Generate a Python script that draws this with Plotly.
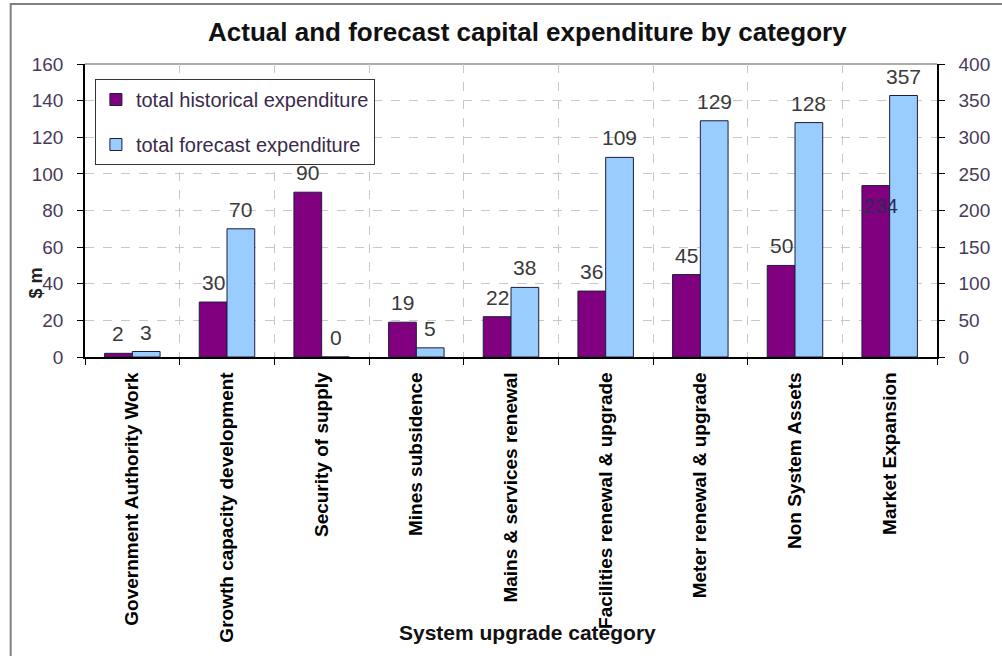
import plotly.graph_objects as go

categories = [
    "Government Authority Work",
    "Growth capacity development",
    "Security of supply",
    "Mines subsidence",
    "Mains & services renewal",
    "Facilities renewal & upgrade",
    "Meter renewal & upgrade",
    "Non System Assets",
    "Market Expansion",
]
historical = [2, 30, 90, 19, 22, 36, 45, 50, 234]
forecast = [3, 70, 0, 5, 38, 109, 129, 128, 357]
secondary_axis_categories = ["Market Expansion"]

hist_color = "#800080"
fore_color = "#99CCFF"
edge = dict(color="#1c1c3c", width=1)
FONT = "Liberation Sans, Arial"
label_font = dict(family=FONT, size=21, color="#3a3a3a")
bw = 0.293

L, R, T, B = 85, 57, 64, 299
W, H = 1002, 656
pw, ph = W - L - R, H - T - B
cat_px = pw / len(categories)
half_bar_px = bw * cat_px / 2


def px(x):
    return (x - L) / pw


def py(y):
    return (H - B - y) / ph


prim = [i for i, c in enumerate(categories) if c not in secondary_axis_categories]
sec = [i for i, c in enumerate(categories) if c in secondary_axis_categories]

fig = go.Figure()
fig.add_trace(go.Bar(
    x=[categories[i] for i in prim], y=[historical[i] for i in prim],
    name="total historical expenditure", marker=dict(color=hist_color, line=edge),
    width=bw, offset=-bw, legendgroup="h", yaxis="y"))
fig.add_trace(go.Bar(
    x=[categories[i] for i in prim], y=[forecast[i] for i in prim],
    name="total forecast expenditure", marker=dict(color=fore_color, line=edge),
    width=bw, offset=0, legendgroup="f", yaxis="y"))
fig.add_trace(go.Bar(
    x=[categories[i] for i in sec], y=[historical[i] for i in sec],
    name="total historical expenditure", marker=dict(color=hist_color, line=edge),
    width=bw, offset=-bw, showlegend=False, legendgroup="h", yaxis="y2"))
fig.add_trace(go.Bar(
    x=[categories[i] for i in sec], y=[forecast[i] for i in sec],
    name="total forecast expenditure", marker=dict(color=fore_color, line=edge),
    width=bw, offset=0, showlegend=False, legendgroup="f", yaxis="y2"))

annotations = []
for i, c in enumerate(categories):
    yref = "y2" if c in secondary_axis_categories else "y"
    if c in secondary_axis_categories:
        annotations.append(dict(text=str(historical[i]), x=c, y=historical[i], xref="x", yref=yref,
                                showarrow=False, xanchor="center", yanchor="top", xshift=-half_bar_px + 5,
                                yshift=-6, font=dict(family=FONT, size=21, color="#2a2a55")))
    else:
        annotations.append(dict(text=str(historical[i]), x=c, y=historical[i], xref="x", yref=yref,
                                showarrow=False, xanchor="center", yanchor="bottom", xshift=-half_bar_px,
                                yshift=6, font=label_font))
    annotations.append(dict(text=str(forecast[i]), x=c, y=forecast[i], xref="x", yref=yref,
                            showarrow=False, xanchor="center", yanchor="bottom", xshift=half_bar_px,
                            yshift=6, font=label_font))

tick_font = dict(family=FONT, size=19, color="#4a3a5a")

annotations += [
    dict(text="<b>Actual and forecast capital expenditure by category</b>", xref="paper", yref="paper",
         x=px(532), y=py(32), showarrow=False, xanchor="center", yanchor="middle",
         font=dict(family=FONT, size=26, color="#111111")),
    dict(text="<b>System upgrade category</b>", xref="paper", yref="paper",
         x=px(532), y=py(632), showarrow=False, xanchor="center", yanchor="middle",
         font=dict(family=FONT, size=21, color="#111111")),
    dict(text="<b>$ m</b>", xref="paper", yref="paper", textangle=-90,
         x=px(36), y=py(283), showarrow=False, xanchor="center", yanchor="middle",
         font=dict(family=FONT, size=18, color="#222222")),
]

fig.update_layout(
    width=W, height=H, margin=dict(l=L, r=R, t=T, b=B),
    paper_bgcolor="white", plot_bgcolor="white",
    barmode="overlay",
    showlegend=True,
    legend=dict(x=px(95), y=py(79), xanchor="left", yanchor="top",
                bgcolor="white", bordercolor="#333333", borderwidth=1,
                font=dict(family=FONT, size=20, color="#3a2a4a"),
                traceorder="grouped", tracegroupgap=16, itemwidth=30),
    xaxis=dict(categoryorder="array", categoryarray=categories, range=[-0.5, len(categories) - 0.5],
               tickson="boundaries", ticks="outside", ticklen=6, tickcolor="black",
               showline=True, linecolor="black", linewidth=1.5,
               showgrid=True, gridcolor="#c8c8c8", griddash="dash", gridwidth=1,
               tickangle=-90, ticklabelstandoff=6,
               tickfont=dict(family=FONT, size=19, color="black", weight="bold")),
    yaxis=dict(range=[0, 160], dtick=20, ticks="outside", ticklen=6, tickcolor="black",
               showline=True, linecolor="black", linewidth=1.5,
               showgrid=True, gridcolor="#c8c8c8", griddash="dash", gridwidth=1,
               tickfont=tick_font, zeroline=False, ticklabelstandoff=10),
    yaxis2=dict(range=[0, 400], dtick=50, overlaying="y", side="right",
                ticks="outside", ticklen=6, tickcolor="black",
                showline=True, linecolor="black", linewidth=1.5, showgrid=False,
                tickfont=tick_font, zeroline=False, ticklabelstandoff=10),
    annotations=annotations,
    shapes=[
        dict(type="rect", xref="paper", yref="paper", x0=px(10), x1=px(1012), y0=py(664), y1=py(4),
             line=dict(color="#808080", width=2), layer="below"),
        dict(type="line", xref="paper", yref="paper", x0=0, x1=1, y0=1, y1=1,
             line=dict(color="#909090", width=1.5), layer="below"),
    ],
)

fig.write_html("out.html")
